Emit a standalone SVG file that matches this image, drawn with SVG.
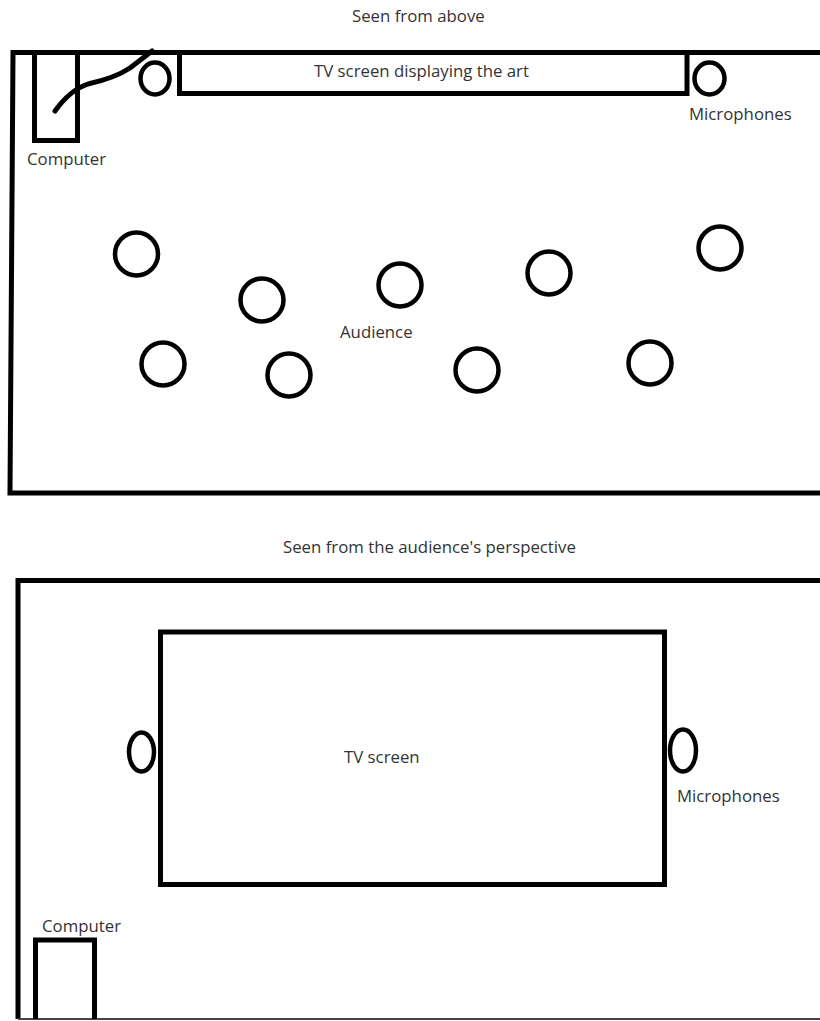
<svg xmlns="http://www.w3.org/2000/svg" width="820" height="1021" viewBox="0 0 820 1021">
<style>
.ln{fill:none;stroke:#000;stroke-width:5;stroke-linejoin:miter}
.c{fill:none;stroke:#000;stroke-width:4.5}
.t{font-family:"Open Sans","Noto Sans","Liberation Sans",sans-serif;font-size:16.8px;fill:#333}
</style>
<rect width="820" height="1021" fill="#fff"/>
<g id="top-view">
  <text class="t" x="352" y="22">Seen from above</text>
  <path id="room-top" class="ln" d="M820 52.5 L13 52.5 L10 493 L820 493"/>
  <g id="computer-top">
    <path class="ln" d="M34.5 52.5 L34.5 140.5 L77.5 140.5 L77.5 52.5"/>
    <text class="t" x="27" y="165">Computer</text>
  </g>
  <g id="tv-top">
    <path class="ln" d="M179.5 52.5 L179.5 93.5 L687 93.5 L687 52.5"/>
    <text class="t" x="314" y="77">TV screen displaying the art</text>
  </g>
  <g id="mic-top-left"><ellipse class="c" cx="155" cy="78.5" rx="14.5" ry="16"/></g>
  <g id="mic-top-right">
    <ellipse class="c" cx="709.5" cy="78.5" rx="15" ry="16"/>
    <text class="t" x="689" y="120">Microphones</text>
  </g>
  <g id="audience">
    <circle class="c" cx="136.5" cy="254" r="21.5"/>
    <circle class="c" cx="262" cy="300" r="21.5"/>
    <circle class="c" cx="400" cy="285" r="21.5"/>
    <circle class="c" cx="163" cy="364" r="21.5"/>
    <circle class="c" cx="289" cy="375" r="21.5"/>
    <circle class="c" cx="549" cy="273" r="21.5"/>
    <circle class="c" cx="720" cy="248" r="21.5"/>
    <circle class="c" cx="477" cy="370" r="21.5"/>
    <circle class="c" cx="650" cy="363" r="21.5"/>
    <text class="t" x="340" y="338">Audience</text>
  </g>
</g>
<g id="connectors">
  <path class="ln" stroke-linecap="round" stroke-width="4.5" d="M55 111 Q70 90 88 84 Q115 78 130 68 Q143 58 152 51"/>
</g>
<g id="front-view">
  <text class="t" x="283" y="553">Seen from the audience's perspective</text>
  <path id="room-front" class="ln" d="M820 580.5 L18 580.5 L18 1019"/>
  <line x1="18" y1="1019" x2="820" y2="1019" stroke="#444" stroke-width="2"/>
  <g id="tv-front">
    <rect class="ln" x="160.5" y="632" width="504" height="252.5"/>
    <text class="t" x="344" y="763">TV screen</text>
  </g>
  <g id="mic-front-left"><ellipse class="c" cx="141.5" cy="752" rx="12.5" ry="19.5"/></g>
  <g id="mic-front-right">
    <ellipse class="c" cx="683" cy="750.5" rx="13" ry="21"/>
    <text class="t" x="677" y="802">Microphones</text>
  </g>
  <g id="computer-front">
    <path class="ln" d="M35.5 1019 L35.5 940 L94.5 940 L94.5 1019"/>
    <text class="t" x="42" y="932">Computer</text>
  </g>
</g>
</svg>
